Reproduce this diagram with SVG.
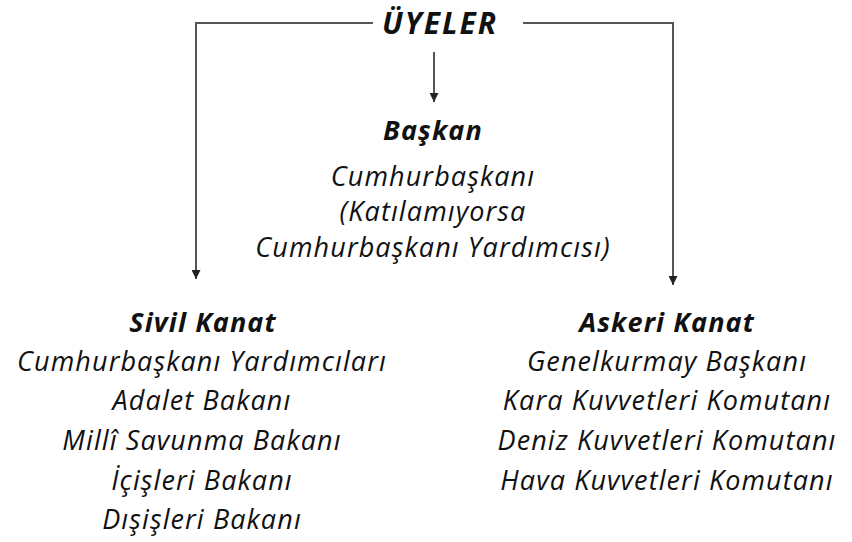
<svg xmlns="http://www.w3.org/2000/svg" width="852" height="542" viewBox="0 0 852 542">
<defs>
<style>
text{font-family:"Open Sans","Noto Sans","DejaVu Sans",sans-serif;font-style:italic;fill:#111;text-anchor:middle;font-size:27px;letter-spacing:1.1px}
.b{font-weight:bold}
.t{font-size:30px;font-weight:bold;letter-spacing:2px}
.c{fill:none;stroke:#555;stroke-width:2}
</style>
<marker id="ah" viewBox="0 0 10 10" refX="10" refY="5" markerWidth="10" markerHeight="9" orient="auto" markerUnits="userSpaceOnUse">
<path d="M0,0 L10,5 L0,10 z" fill="#222"/>
</marker>
</defs>
<rect width="852" height="542" fill="#fff"/>
<g id="connectors">
<path class="c" d="M373,23 H196 V279" marker-end="url(#ah)"/>
<path class="c" d="M523,23 H673 V285" marker-end="url(#ah)"/>
<path class="c" d="M434,52 V102" marker-end="url(#ah)"/>
</g>
<g id="uyeler"><text class="t" x="440" y="34">ÜYELER</text></g>
<g id="baskan">
<text class="b" x="433" y="140">Başkan</text>
<text x="433" y="186">Cumhurbaşkanı</text>
<text x="433" y="221">(Katılamıyorsa</text>
<text x="433" y="257">Cumhurbaşkanı Yardımcısı)</text>
</g>
<g id="sivil">
<text class="b" x="203" y="332">Sivil Kanat</text>
<text x="202" y="371">Cumhurbaşkanı Yardımcıları</text>
<text x="202" y="410">Adalet Bakanı</text>
<text x="202" y="450">Millî Savunma Bakanı</text>
<text x="202" y="490">İçişleri Bakanı</text>
<text x="202" y="529">Dışişleri Bakanı</text>
</g>
<g id="askeri">
<text class="b" x="667" y="332">Askeri Kanat</text>
<text x="667" y="371">Genelkurmay Başkanı</text>
<text x="667" y="410">Kara Kuvvetleri Komutanı</text>
<text x="667" y="450">Deniz Kuvvetleri Komutanı</text>
<text x="667" y="490">Hava Kuvvetleri Komutanı</text>
</g>
</svg>
